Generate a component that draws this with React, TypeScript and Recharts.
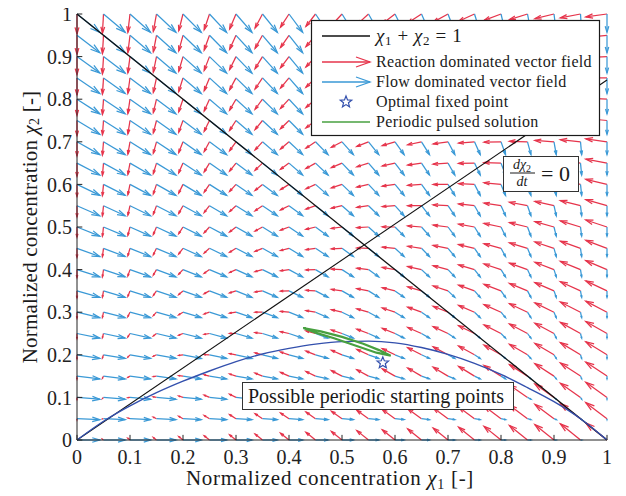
import React from 'react';
import { ComposedChart, XAxis, YAxis, ReferenceLine, Line, Scatter } from 'recharts';

// quiver grid (columns = chi1, rows = chi2)
const gridX = [0, 0.05, 0.1, 0.15, 0.2, 0.25, 0.3, 0.35, 0.4, 0.45, 0.5, 0.55, 0.6, 0.65, 0.7, 0.75, 0.8, 0.85, 0.9, 0.95, 1];
const gridY = [0, 0.05, 0.1, 0.15, 0.2, 0.25, 0.3, 0.35, 0.4, 0.45, 0.5, 0.55, 0.6, 0.65, 0.7, 0.75, 0.8, 0.85, 0.9, 0.95, 1];

// reaction dominated field (red): dx per column, dy = column part + row part
const reactionDxByCol = [0, -0.002, -0.004, -0.006, -0.008, -0.010, -0.012, -0.014, -0.016, -0.018, -0.020, -0.022, -0.024, -0.026, -0.028, -0.030, -0.032, -0.034, -0.036, -0.038, -0.040];
const reactionDyByCol = [0, 0.002, 0.004, 0.006, 0.008, 0.010, 0.012, 0.014, 0.016, 0.018, 0.020, 0.022, 0.024, 0.026, 0.028, 0.030, 0.032, 0.034, 0.036, 0.038, 0.040];
const reactionDyByRow = [0, -0.0024, -0.0047, -0.0071, -0.0094, -0.0118, -0.0141, -0.0165, -0.0188, -0.0212, -0.0235, -0.0259, -0.0282, -0.0306, -0.0329, -0.0353, -0.0376, -0.0400, -0.0423, -0.0447, -0.047];

// flow dominated field (blue)
const flowDxByCol = [0.043, 0.0409, 0.0387, 0.0366, 0.0344, 0.0323, 0.0301, 0.0280, 0.0258, 0.0237, 0.0215, 0.0194, 0.0172, 0.0151, 0.0129, 0.0108, 0.0086, 0.0065, 0.0043, 0.0022, 0];
const flowDyByRow = [0, -0.0022, -0.0043, -0.0065, -0.0086, -0.0108, -0.0129, -0.0151, -0.0172, -0.0194, -0.0215, -0.0237, -0.0258, -0.0280, -0.0301, -0.0323, -0.0344, -0.0366, -0.0387, -0.0409, -0.043];

// possible periodic starting points curve
const curveX = [0, 0.05, 0.1, 0.15, 0.2, 0.25, 0.3, 0.35, 0.4, 0.45, 0.5, 0.55, 0.6, 0.65, 0.7, 0.75, 0.8, 0.85, 0.9, 0.95, 1];
const curveY = [0, 0.044, 0.080, 0.111, 0.138, 0.162, 0.184, 0.202, 0.215, 0.225, 0.231, 0.232, 0.228, 0.217, 0.201, 0.180, 0.154, 0.123, 0.090, 0.050, 0];

// periodic pulsed solution (thin loop)
const pulsedX = [0.427, 0.46, 0.50, 0.54, 0.57, 0.592, 0.565, 0.525, 0.485, 0.45, 0.427];
const pulsedY = [0.263, 0.255, 0.242, 0.226, 0.211, 0.198, 0.205, 0.222, 0.239, 0.252, 0.263];

// optimal fixed point
const fixedPoint = { x: 0.577, y: 0.181 };

// straight lines
const sumLine = [{ x: 0, y: 1 }, { x: 1, y: 0 }];
const nullcline = [{ x: 0, y: 0 }, { x: 1, y: 0.845 }];

const xTicks = [0, 0.1, 0.2, 0.3, 0.4, 0.5, 0.6, 0.7, 0.8, 0.9, 1];
const xTickLabels = ['0', '0.1', '0.2', '0.3', '0.4', '0.5', '0.6', '0.7', '0.8', '0.9', '1'];
const yTicks = [0, 0.1, 0.2, 0.3, 0.4, 0.5, 0.6, 0.7, 0.8, 0.9, 1];
const yTickLabels = ['0', '0.1', '0.2', '0.3', '0.4', '0.5', '0.6', '0.7', '0.8', '0.9', '1'];

const RED = '#e6344b';
const BLUE = '#3a99d6';
const CURVE = '#3350ad';
const GREEN = '#48a040';
const FONT = '"Liberation Serif", "Times New Roman", serif';

type Vec = { x: number; y: number; dx: number; dy: number };
const reactionVectors: Vec[] = [];
const flowVectors: Vec[] = [];
gridY.forEach((y, r) => {
  gridX.forEach((x, c) => {
    const rdx = reactionDxByCol[c];
    const rdy = reactionDyByCol[c] + reactionDyByRow[r];
    if (Math.abs(rdx) + Math.abs(rdy) > 1e-6) reactionVectors.push({ x, y, dx: rdx, dy: rdy });
    const fdx = flowDxByCol[c];
    const fdy = flowDyByRow[r];
    if (Math.abs(fdx) + Math.abs(fdy) > 1e-6) flowVectors.push({ x, y, dx: fdx, dy: fdy });
  });
});

const curveData = curveX.map((x, i) => ({ x, y: curveY[i] }));
const pulsedData = pulsedX.map((x, i) => ({ x, y: pulsedY[i] }));

const makeArrow = (color: string) => (p: any) => {
  const { x1, y1, x2, y2 } = p;
  const dx = x2 - x1;
  const dy = y2 - y1;
  const L = Math.hypot(dx, dy);
  if (!isFinite(L) || L < 0.3) return <g />;
  const a = 0.33;
  const b = 0.3;
  const h1x = x2 - a * (dx + b * dy);
  const h1y = y2 - a * (dy - b * dx);
  const h2x = x2 - a * (dx - b * dy);
  const h2y = y2 - a * (dy + b * dx);
  return (
    <g>
      <line x1={x1} y1={y1} x2={x2} y2={y2} stroke={color} strokeWidth={1.25} />
      <polyline points={`${h1x},${h1y} ${x2},${y2} ${h2x},${h2y}`} fill="none" stroke={color} strokeWidth={1.25} />
    </g>
  );
};
const redArrow = makeArrow(RED);
const blueArrow = makeArrow(BLUE);

const starShape = (p: any) => {
  const { cx, cy } = p;
  if (cx == null || cy == null) return <g />;
  const R = 6;
  const r = 2.6;
  const pts: string[] = [];
  for (let i = 0; i < 10; i++) {
    const ang = -Math.PI / 2 + (i * Math.PI) / 5;
    const rad = i % 2 === 0 ? R : r;
    pts.push(`${cx + rad * Math.cos(ang)},${cy + rad * Math.sin(ang)}`);
  }
  return <polygon points={pts.join(' ')} fill="none" stroke={CURVE} strokeWidth={1.2} />;
};

const XLabel = (props: any) => {
  const vb = props.viewBox || { x: 69, y: 432, width: 530, height: 56 };
  return (
    <text x={vb.x + vb.width / 2 - 12} y={vb.y + 45} textAnchor="middle" fontFamily={FONT} fontSize={21} letterSpacing={0.7} fill="#1a1a1a">
      Normalized concentration <tspan fontStyle="italic">χ</tspan>
      <tspan fontSize={14} dy={4}>1</tspan>
      <tspan dy={-4}> [-]</tspan>
    </text>
  );
};

const YLabel = (props: any) => {
  const vb = props.viewBox || { x: 0, y: 6, width: 69, height: 426 };
  const cx = vb.x + 22;
  const cy = vb.y + vb.height / 2;
  return (
    <text x={cx} y={cy} transform={`rotate(-90, ${cx}, ${cy})`} textAnchor="middle" dominantBaseline="central" fontFamily={FONT} fontSize={21} letterSpacing={0.2} fill="#1a1a1a">
      Normalized concentration <tspan fontStyle="italic">χ</tspan>
      <tspan fontSize={14} dy={4}>2</tspan>
      <tspan dy={-4}> [-]</tspan>
    </text>
  );
};

const legendText = { fontSize: 16, letterSpacing: 0.33 };

const Legend = () => (
  <svg width={290} height={118} style={{ position: 'absolute', left: 303, top: 12, overflow: 'visible' }}>
    <rect x={0.5} y={0.5} width={288} height={115} fill="#fff" stroke="#1a1a1a" strokeWidth={1.2} />
    <g fontFamily={FONT} fill="#1a1a1a">
      <line x1={11} y1={16} x2={59} y2={16} stroke="#111" strokeWidth={1.4} />
      <text x={65} y={22} fontSize={19} letterSpacing={0.6}>
        <tspan fontStyle="italic">χ</tspan><tspan fontSize={13} dy={3}>1</tspan>
        <tspan dy={-3}> + </tspan>
        <tspan fontStyle="italic">χ</tspan><tspan fontSize={13} dy={3}>2</tspan>
        <tspan dy={-3}> = 1</tspan>
      </text>
      <line x1={11} y1={42} x2={59} y2={42} stroke={RED} strokeWidth={1.3} />
      <polyline points="45,37 59,42 45,47" fill="none" stroke={RED} strokeWidth={1.3} />
      <text x={65} y={47} {...legendText}>Reaction dominated vector field</text>
      <line x1={11} y1={62} x2={59} y2={62} stroke={BLUE} strokeWidth={1.3} />
      <polyline points="45,57 59,62 45,67" fill="none" stroke={BLUE} strokeWidth={1.3} />
      <text x={65} y={67} {...legendText}>Flow dominated vector field</text>
      {starShape({ cx: 35, cy: 82 })}
      <text x={65} y={87} {...legendText}>Optimal fixed point</text>
      <line x1={11} y1={102} x2={59} y2={102} stroke={GREEN} strokeWidth={1.3} />
      <text x={65} y={107} {...legendText}>Periodic pulsed solution</text>
    </g>
  </svg>
);

const NullclineBox = () => (
  <svg width={78} height={38} style={{ position: 'absolute', left: 495, top: 148, overflow: 'visible' }}>
    <rect x={0.5} y={0.5} width={75} height={35} fill="#fff" stroke="#333" strokeWidth={1} />
    <g fontFamily={FONT} fill="#1a1a1a">
      <text x={19} y={13} fontSize={14} textAnchor="middle">
        <tspan fontStyle="italic">d</tspan><tspan fontStyle="italic">χ</tspan><tspan fontSize={10} dy={3}>2</tspan>
      </text>
      <line x1={7} y1={17} x2={32} y2={17} stroke="#1a1a1a" strokeWidth={1} />
      <text x={19} y={30} fontSize={14} textAnchor="middle" fontStyle="italic">dt</text>
      <text x={38} y={25} fontSize={22}>= 0</text>
    </g>
  </svg>
);

const StartBox = () => (
  <div
    style={{
      position: 'absolute',
      left: 234,
      top: 374,
      width: 265,
      height: 26,
      border: '1px solid #333',
      background: '#fff',
      fontFamily: FONT,
      fontSize: 20,
      lineHeight: '26px',
      paddingLeft: 5,
      color: '#1a1a1a',
      whiteSpace: 'nowrap',
      boxSizing: 'content-box',
    }}
  >
    Possible periodic starting points
  </div>
);

export default function App() {
  return (
    <div style={{ position: 'relative', width: 610, height: 488 }}>
      <ComposedChart width={610} height={488} margin={{ top: 6, right: 11, bottom: 0, left: 0 }}>
        <XAxis
          type="number"
          dataKey="x"
          domain={[0, 1]}
          ticks={xTicks}
          interval={0}
          allowDataOverflow
          tickFormatter={(v: number) => xTickLabels[xTicks.indexOf(v)] ?? String(v)}
          tickLine={false}
          tickSize={0}
          tickMargin={10}
          height={56}
          axisLine={{ stroke: '#222', strokeWidth: 1 }}
          tick={{ fontSize: 20, fill: '#222', fontFamily: FONT }}
          label={XLabel}
        />
        <YAxis
          type="number"
          dataKey="y"
          domain={[0, 1]}
          ticks={yTicks}
          interval={0}
          allowDataOverflow
          tickFormatter={(v: number) => yTickLabels[yTicks.indexOf(v)] ?? String(v)}
          tickLine={false}
          tickSize={0}
          tickMargin={5}
          width={69}
          axisLine={{ stroke: '#222', strokeWidth: 1 }}
          tick={{ fontSize: 20, fill: '#222', fontFamily: FONT }}
          label={YLabel}
        />
        {reactionVectors.map((v, i) => (
          <ReferenceLine
            key={`r${i}`}
            segment={[{ x: v.x, y: v.y }, { x: v.x + v.dx, y: v.y + v.dy }]}
            ifOverflow="visible"
            shape={redArrow}
          />
        ))}
        {flowVectors.map((v, i) => (
          <ReferenceLine
            key={`f${i}`}
            segment={[{ x: v.x, y: v.y }, { x: v.x + v.dx, y: v.y + v.dy }]}
            ifOverflow="visible"
            shape={blueArrow}
          />
        ))}
        {xTicks.map((t) => (
          <ReferenceLine key={`xt${t}`} segment={[{ x: t, y: 0 }, { x: t, y: 0.012 }]} ifOverflow="visible" stroke="#222" strokeWidth={1} />
        ))}
        {yTicks.map((t) => (
          <ReferenceLine key={`yt${t}`} segment={[{ x: 0, y: t }, { x: 0.01, y: t }]} ifOverflow="visible" stroke="#222" strokeWidth={1} />
        ))}
        <ReferenceLine segment={sumLine} ifOverflow="visible" stroke="#111" strokeWidth={1.3} />
        <ReferenceLine segment={nullcline} ifOverflow="visible" stroke="#111" strokeWidth={1.1} />
        <Line data={curveData} dataKey="y" type="monotone" stroke={CURVE} strokeWidth={1.4} dot={false} activeDot={false} isAnimationActive={false} />
        <Line data={pulsedData} dataKey="y" type="linear" stroke={GREEN} strokeWidth={2.2} dot={false} activeDot={false} isAnimationActive={false} />
        <Scatter data={[fixedPoint]} dataKey="y" shape={starShape} isAnimationActive={false} />
      </ComposedChart>
      <Legend />
      <NullclineBox />
      <StartBox />
    </div>
  );
}
